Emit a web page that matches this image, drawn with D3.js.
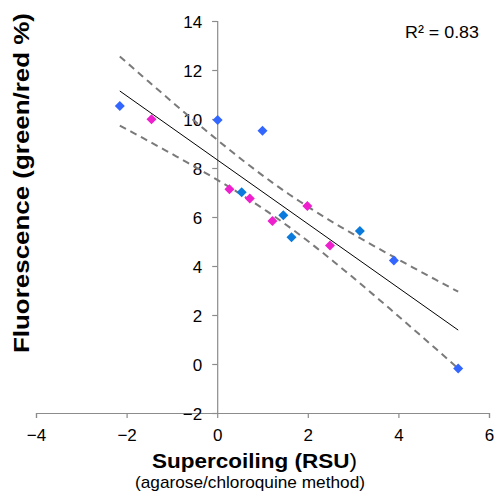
<!DOCTYPE html>
<html>
<head>
<meta charset="utf-8">
<script src="https://cdn.jsdelivr.net/npm/d3@7"></script>
<style>
  html, body { margin: 0; padding: 0; background: #fff; }
  svg { display: block; font-family: "Liberation Sans", Arial, sans-serif; }
</style>
</head>
<body>
<svg id="chart" width="495" height="493"></svg>
<script>
// ---- data ----
const blueX = [-2.15, 0.01, 1.00, 3.90, 5.32];
const blueY = [10.53, 9.96, 9.52, 4.22, -0.18];
const lightBlueX = [0.54, 1.46, 1.64, 3.15];
const lightBlueY = [7.01, 6.07, 5.17, 5.43];
const magentaX = [-1.45, 0.27, 0.72, 1.22, 1.99, 2.49];
const magentaY = [9.99, 7.13, 6.76, 5.84, 6.45, 4.84];
const xTicks = [-4, -2, 0, 2, 4, 6];
const yTicks = [-2, 0, 2, 4, 6, 8, 10, 12, 14];
const rSquaredLabel = "R² = 0.83";
const tCritical = 2.160; // t(0.975, df = 13)

// ---- layout ----
const svg = d3.select("#chart");
const x = d3.scaleLinear().domain([-4, 6]).range([36, 489]);
const y = d3.scaleLinear().domain([-2, 14]).range([413, 21]);

const groups = [
  { xs: blueX, ys: blueY, color: "#3366ff" },
  { xs: lightBlueX, ys: lightBlueY, color: "#0a7bdc" },
  { xs: magentaX, ys: magentaY, color: "#ee1fcc" }
];
const pts = [];
groups.forEach(g => g.xs.forEach((v, i) => pts.push({ x: v, y: g.ys[i], color: g.color })));

// ---- linear regression + 95% confidence band ----
const n = pts.length;
const mx = d3.mean(pts, d => d.x), my = d3.mean(pts, d => d.y);
const sxx = d3.sum(pts, d => (d.x - mx) ** 2);
const sxy = d3.sum(pts, d => (d.x - mx) * (d.y - my));
const slope = sxy / sxx, intercept = my - slope * mx;
const sse = d3.sum(pts, d => (d.y - (intercept + slope * d.x)) ** 2);
const s = Math.sqrt(sse / (n - 2));
const [xmin, xmax] = d3.extent(pts, d => d.x);
const xs = d3.range(0, 61).map(i => xmin + (xmax - xmin) * i / 60);
const hw = v => tCritical * s * Math.sqrt(1 / n + (v - mx) ** 2 / sxx);
const fit = v => intercept + slope * v;

// ---- axes ----
const xAxis = svg.append("g").attr("transform", `translate(0,${y(-2)})`)
  .call(d3.axisBottom(x).tickValues(xTicks).tickSize(5).tickPadding(9).tickFormat(d3.format("d")));
const yAxis = svg.append("g").attr("transform", `translate(${x(0)},0)`)
  .call(d3.axisLeft(y).tickValues(yTicks).tickSize(5).tickPadding(10).tickFormat(d3.format("d")));
[xAxis, yAxis].forEach(a => {
  a.select(".domain").attr("stroke", "#8c8c8c").attr("stroke-width", 1.2);
  a.selectAll(".tick line").attr("stroke", "#8c8c8c").attr("stroke-width", 1.2);
  a.selectAll(".tick text").attr("fill", "#000").style("font-size", "17px")
    .style("font-family", "'Liberation Sans', Arial, sans-serif");
});
xAxis.selectAll(".tick text").attr("dy", "0.85em");
yAxis.selectAll(".tick text").attr("dy", "0.36em");

// ---- band & fit ----
const line = d3.line().x(d => x(d[0])).y(d => y(d[1]));
svg.append("path").attr("d", line(xs.map(v => [v, fit(v) + hw(v)])))
  .attr("fill", "none").attr("stroke", "#7a7a7a").attr("stroke-width", 2).attr("stroke-dasharray", "7,5");
svg.append("path").attr("d", line(xs.map(v => [v, fit(v) - hw(v)])))
  .attr("fill", "none").attr("stroke", "#7a7a7a").attr("stroke-width", 2).attr("stroke-dasharray", "7,5");
svg.append("path").attr("d", line([[xmin, fit(xmin)], [xmax, fit(xmax)]]))
  .attr("fill", "none").attr("stroke", "#000").attr("stroke-width", 1);

// ---- points ----
svg.append("g").selectAll("path").data(pts).join("path")
  .attr("d", "M0,-5L5,0L0,5L-5,0Z")
  .attr("transform", d => `translate(${x(d.x)},${y(d.y)})`)
  .attr("fill", d => d.color);

// ---- texts ----
svg.append("text").attr("x", 405).attr("y", 38)
  .attr("textLength", 74).attr("lengthAdjust", "spacingAndGlyphs")
  .style("font-size", "17px").text(rSquaredLabel);

const xt = svg.append("text").attr("x", 152).attr("y", 468)
  .attr("textLength", 205).attr("lengthAdjust", "spacingAndGlyphs")
  .style("font-size", "21px");
xt.append("tspan").style("font-weight", "bold").text("Supercoiling (RSU");
xt.append("tspan").text(")");

svg.append("text").attr("x", 135).attr("y", 488)
  .attr("textLength", 230).attr("lengthAdjust", "spacingAndGlyphs")
  .style("font-size", "17px").text("(agarose/chloroquine method)");

svg.append("text").attr("transform", "translate(29,353) rotate(-90)")
  .attr("textLength", 340).attr("lengthAdjust", "spacingAndGlyphs")
  .style("font-size", "22px").style("font-weight", "bold")
  .text("Fluorescence (green/red %)");
</script>
</body>
</html>
